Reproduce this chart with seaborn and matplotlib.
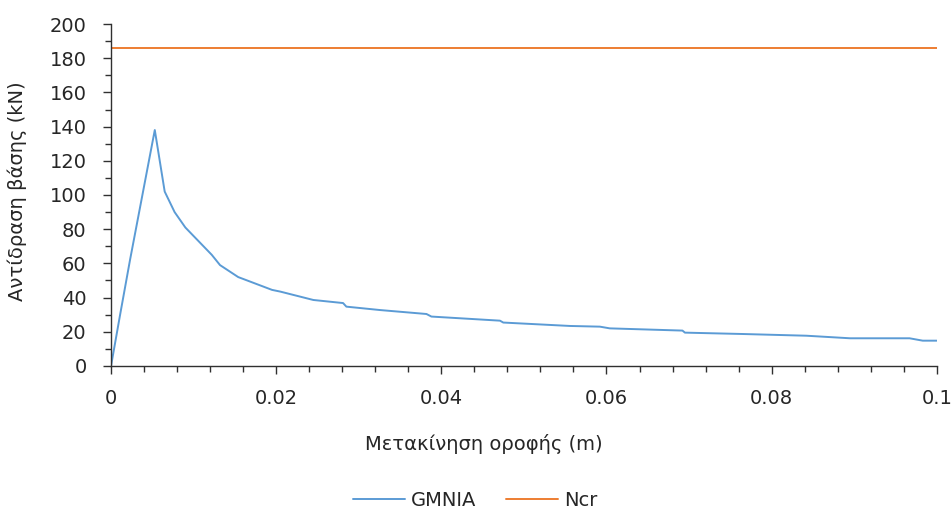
import matplotlib
matplotlib.use("Agg")
import matplotlib.pyplot as plt
import seaborn as sns
import pandas as pd
from matplotlib.ticker import MultipleLocator, FuncFormatter
from matplotlib.lines import Line2D

# Data
gmnia_x = [0.0, 0.0011, 0.0023, 0.0038, 0.0053, 0.0065, 0.0077, 0.0090, 0.0122, 0.0132,
           0.0154, 0.0195, 0.0205, 0.0245, 0.0281, 0.0285, 0.0326, 0.0382, 0.0388,
           0.0471, 0.0475, 0.0556, 0.0592, 0.0604, 0.0692, 0.0695, 0.0765, 0.0842,
           0.0895, 0.0967, 0.0983, 0.1]
gmnia_y = [0.0, 30.0, 62.0, 100.0, 138.0, 102.0, 90.0, 81.0, 65.0, 59.0,
           52.0, 44.5, 43.5, 38.6, 36.8, 34.7, 32.7, 30.4, 28.9,
           26.5, 25.4, 23.4, 23.0, 22.0, 20.7, 19.5, 18.7, 17.7,
           16.2, 16.2, 14.8, 14.8]
ncr_x = [0.0, 0.1]
ncr_y = [186.0, 186.0]

series_names = ["GMNIA", "Ncr"]
x_label = "Μετακίνηση οροφής (m)"
y_label = "Αντίδραση βάσης (kN)"

df = pd.concat([
    pd.DataFrame({"x": gmnia_x, "y": gmnia_y, "s": series_names[0]}),
    pd.DataFrame({"x": ncr_x, "y": ncr_y, "s": series_names[1]}),
], ignore_index=True)

sns.set_theme(style="ticks")
plt.rcParams["font.family"] = ["DejaVu Sans"]

TXT = "#262626"
fig = plt.figure(figsize=(9.53, 5.11), dpi=100)
ax = fig.add_axes([0.1165, 0.2838, 0.8665, 0.6692])

sns.lineplot(data=df, x="x", y="y", hue="s", sort=False, estimator=None,
             palette=["#5B9BD5", "#ED7D31"], linewidth=1.4, ax=ax, legend=False)

ax.set_xlim(0, 0.1)
ax.set_ylim(0, 200)
ax.xaxis.set_major_locator(MultipleLocator(0.02))
ax.xaxis.set_minor_locator(MultipleLocator(0.004))
ax.yaxis.set_major_locator(MultipleLocator(20))
ax.yaxis.set_minor_locator(MultipleLocator(10))
ax.xaxis.set_major_formatter(FuncFormatter(lambda v, p: "0" if abs(v) < 1e-12 else ("%g" % round(v, 4))))

for s in ["top", "right"]:
    ax.spines[s].set_visible(False)
for s in ["left", "bottom"]:
    ax.spines[s].set_color("#303030")
    ax.spines[s].set_linewidth(1.0)

ax.tick_params(axis="both", which="major", length=5.5, width=1.0, color="#303030",
               labelsize=14, labelcolor=TXT, direction="out")
ax.tick_params(axis="both", which="minor", length=4.5, width=1.0, color="#303030", direction="out")
ax.tick_params(axis="x", which="major", pad=11)
ax.tick_params(axis="y", which="major", pad=12)

ax.set_xlabel(x_label, fontsize=14, color=TXT)
ax.set_ylabel(y_label, fontsize=14, color=TXT)
ax.xaxis.set_label_coords(0.4516, -0.198)
ax.yaxis.set_label_coords(-0.102, 0.51)

handles = [Line2D([0], [0], color="#5B9BD5", lw=1.4), Line2D([0], [0], color="#ED7D31", lw=1.4)]
leg = fig.legend(handles, series_names, loc="center", bbox_to_anchor=(475 / 953, 1 - 500 / 511),
                 ncol=2, frameon=False, fontsize=14, handlelength=2.7, columnspacing=1.5,
                 handletextpad=0.3, labelcolor=TXT)

fig.savefig("out.png", dpi=100)
